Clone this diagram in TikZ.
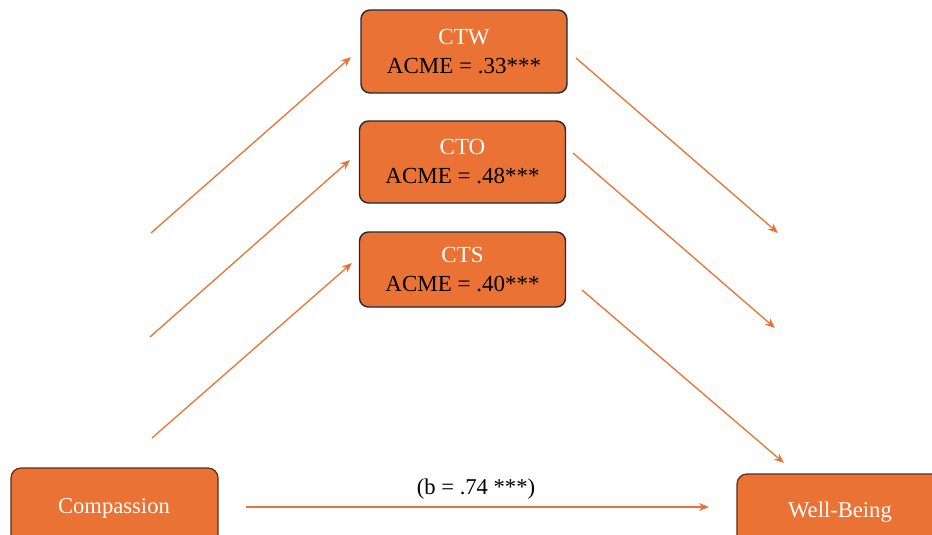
\documentclass[tikz,border=0pt]{standalone}
\usepackage{fontspec}
\setmainfont{Liberation Serif}
\usetikzlibrary{arrows.meta}
\definecolor{orng}{HTML}{E97234}
\definecolor{navyb}{HTML}{1E2B36}
\definecolor{brownb}{HTML}{5A2E12}
\tikzset{
  medbox/.style={draw=navyb, line width=1.4pt, fill=orng, rounded corners=9pt,
    minimum width=206pt, align=center, font=\fontsize{23}{29}\selectfont, inner sep=0pt},
  endbox/.style={draw=brownb, line width=1.2pt, fill=orng, rounded corners=10pt,
    text=white, inner sep=0pt},
  endtext/.style={text=white, font=\fontsize{22.6}{26}\selectfont},
  conn/.style={draw=orng, line width=1.3pt, -{Stealth[length=10pt,width=8pt]}},
}
\begin{document}
\begin{tikzpicture}[x=1pt,y=-1pt]
\useasboundingbox (0,0) rectangle (932,535);
% mediator boxes
\node[medbox, minimum height=83pt] (ctw) at (464,51.5) {\textcolor{white}{CTW}\\ACME = .33***};
\node[medbox, minimum height=82pt] (cto) at (462.5,162) {\textcolor{white}{CTO}\\ACME = .48***};
\node[medbox, minimum height=75pt] (cts) at (462.5,269.5) {\textcolor{white}{CTS}\\ACME = .40***};
% end boxes
\node[endbox, minimum width=207pt, minimum height=80pt] (comp) at (114.5,508) {};
\node[endtext] (comptext) at (114,508) {Compassion};
\node[endbox, minimum width=220pt, minimum height=80pt] (wb) at (847,514) {};
\node[endtext] (wbtext) at (840,512) {Well-Being};
% free connector ends
\coordinate (a1s) at (151,233); \coordinate (a1e) at (351,57);
\coordinate (a2s) at (150,337); \coordinate (a2e) at (350,160);
\coordinate (a3s) at (152,438); \coordinate (a3e) at (352,263);
\coordinate (b1s) at (576,58);  \coordinate (b1e) at (778,233);
\coordinate (b2s) at (573,153); \coordinate (b2e) at (775,328);
\coordinate (b3s) at (582,290); \coordinate (b3e) at (784,463);
\coordinate (cs) at (246,507);  \coordinate (ce) at (709,507);
\draw[conn] (a1s) -- (a1e);
\draw[conn] (a2s) -- (a2e);
\draw[conn] (a3s) -- (a3e);
\draw[conn] (b1s) -- (b1e);
\draw[conn] (b2s) -- (b2e);
\draw[conn] (b3s) -- (b3e);
\draw[conn] (cs) -- (ce);
\node[font=\fontsize{22.6}{26}\selectfont] (blabel) at (476,489) {(b = .74 ***)};
\end{tikzpicture}
\end{document}
